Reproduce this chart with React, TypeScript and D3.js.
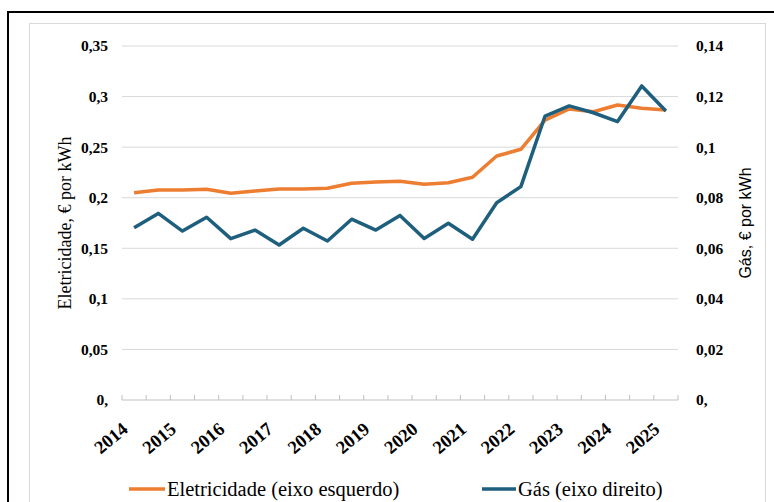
import React from "react";
import * as d3 from "d3";

const categories = [
  "2014 S1", "2014 S2", "2015 S1", "2015 S2", "2016 S1", "2016 S2",
  "2017 S1", "2017 S2", "2018 S1", "2018 S2", "2019 S1", "2019 S2",
  "2020 S1", "2020 S2", "2021 S1", "2021 S2", "2022 S1", "2022 S2",
  "2023 S1", "2023 S2", "2024 S1", "2024 S2", "2025 S1",
];
const tickLabels = ["2014", "2015", "2016", "2017", "2018", "2019", "2020", "2021", "2022", "2023", "2024", "2025"];
const electricity = [
  0.205, 0.2076, 0.2076, 0.2083, 0.2044, 0.2066, 0.2086, 0.2086, 0.2093, 0.2143, 0.2155, 0.2162,
  0.2133, 0.2148, 0.2202, 0.2412, 0.2479, 0.2768, 0.2877, 0.285, 0.2917, 0.2884, 0.2867,
];
const gas = [
  0.0681, 0.0738, 0.0668, 0.0723, 0.0638, 0.0672, 0.0613, 0.0679, 0.0629, 0.0715, 0.0672, 0.0730,
  0.0639, 0.0699, 0.0636, 0.078, 0.0844, 0.1123, 0.1163, 0.1136, 0.1101, 0.1242, 0.1143,
];
const leftTicks = [0, 0.05, 0.1, 0.15, 0.2, 0.25, 0.3, 0.35];
const rightTicks = [0, 0.02, 0.04, 0.06, 0.08, 0.1, 0.12, 0.14];
const seriesNames = ["Eletricidade (eixo esquerdo)", "Gás (eixo direito)"];

const fmt = (v: number) => (v === 0 ? "0," : String(v).replace(".", ","));

export default function App() {
  const W = 774, H = 502;
  const left = 122, right = 678, top = 46, bottom = 400;
  const x = d3.scaleBand<string>().domain(categories).range([left, right]);
  const xc = (c: string) => (x(c) as number) + x.bandwidth() / 2;
  const yL = d3.scaleLinear().domain([0, 0.35]).range([bottom, top]);
  const yR = d3.scaleLinear().domain([0, 0.14]).range([bottom, top]);
  const lineL = d3.line<number>().x((_, i) => xc(categories[i])).y((d) => yL(d));
  const lineR = d3.line<number>().x((_, i) => xc(categories[i])).y((d) => yR(d));
  const orange = "#ED7D31";
  const blue = "#1F5F7E";
  const serif = "Liberation Serif";
  const sans = "Liberation Sans";
  const tickPositions = d3.range(categories.length + 1).map((i) => left + i * x.step());

  return (
    <svg width={W} height={H} style={{ position: "absolute", left: 0, top: 0, background: "#fff" }}>
      <rect x={8} y={12} width={800} height={600} fill="#fff" stroke="#000" strokeWidth={2} />
      <rect x={29.5} y={23.5} width={736} height={600} fill="#fff" stroke="#d9d9d9" strokeWidth={1} />
      {leftTicks.slice(1).map((t) => (
        <line key={t} x1={left} x2={right} y1={yL(t)} y2={yL(t)} stroke="#d9d9d9" strokeWidth={1} />
      ))}
      <line x1={left} x2={right} y1={bottom} y2={bottom} stroke="#bfbfbf" strokeWidth={1} />
      {tickPositions.map((p, i) => (
        <line key={i} x1={p} x2={p} y1={bottom} y2={bottom - 5} stroke="#bfbfbf" strokeWidth={1} />
      ))}
      {leftTicks.map((t) => (
        <text key={t} x={108} y={yL(t)} dy="0.35em" textAnchor="end" fontFamily={serif} fontWeight="bold" fontSize={15.5}>
          {fmt(t)}
        </text>
      ))}
      {rightTicks.map((t) => (
        <text key={t} x={696} y={yR(t)} dy="0.35em" textAnchor="start" fontFamily={serif} fontWeight="bold" fontSize={15.5}>
          {fmt(t)}
        </text>
      ))}
      {tickLabels.map((lab, i) => {
        const cx = xc(categories[i * 2]);
        return (
          <text key={lab} transform={`translate(${cx - 5},${bottom + 31}) rotate(-40)`} textAnchor="end"
            fontFamily={serif} fontWeight="bold" fontSize={18.5}>
            {lab}
          </text>
        );
      })}
      <text transform={`translate(71,${(top + bottom) / 2}) rotate(-90)`} textAnchor="middle" fontFamily={serif} fontSize={18}>
        Eletricidade, € por kWh
      </text>
      <text transform={`translate(751,${(top + bottom) / 2}) rotate(-90)`} textAnchor="middle" fontFamily={sans} fontSize={16}>
        Gás, € por kWh
      </text>
      <path d={lineL(electricity) || ""} fill="none" stroke={orange} strokeWidth={3.5} strokeLinejoin="round" />
      <path d={lineR(gas) || ""} fill="none" stroke={blue} strokeWidth={3.5} strokeLinejoin="round" />
      <line x1={129} x2={165} y1={489} y2={489} stroke={orange} strokeWidth={3.5} />
      <text x={167} y={489} dy="0.35em" fontFamily={serif} fontSize={20.5}>{seriesNames[0]}</text>
      <line x1={482} x2={516} y1={489} y2={489} stroke={blue} strokeWidth={3.5} />
      <text x={518} y={489} dy="0.35em" fontFamily={serif} fontSize={20.5}>{seriesNames[1]}</text>
    </svg>
  );
}
